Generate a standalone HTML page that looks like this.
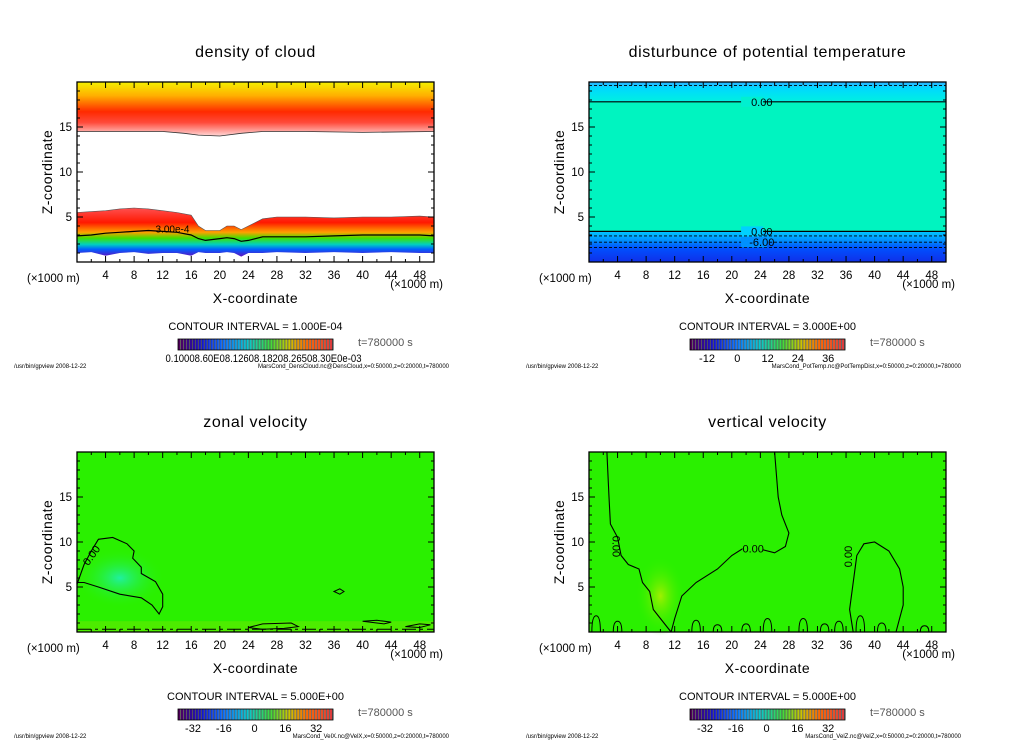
<!DOCTYPE html>
<html><head><meta charset="utf-8">
<style>
html,body{margin:0;padding:0;background:#fff;}
svg{display:block;font-family:"Liberation Sans",sans-serif;}
</style></head>
<body>
<svg id="fig" width="1024" height="740" viewBox="0 0 1024 740" xmlns="http://www.w3.org/2000/svg">
<defs>
<linearGradient id="gTop" x1="0" y1="0" x2="0" y2="1">
<stop offset="0" stop-color="#f4f000"/><stop offset="0.25" stop-color="#ffb000"/><stop offset="0.55" stop-color="#ff2a00"/><stop offset="0.75" stop-color="#ff4a3a"/><stop offset="1" stop-color="#ffd8d8"/>
</linearGradient>
<linearGradient id="gLow" x1="0" y1="0" x2="0" y2="1">
<stop offset="0" stop-color="#ff5050"/><stop offset="0.3" stop-color="#ff1800"/><stop offset="0.5" stop-color="#ffa000"/><stop offset="0.62" stop-color="#40e000"/><stop offset="0.75" stop-color="#00d0c0"/><stop offset="0.85" stop-color="#0060ff"/><stop offset="1" stop-color="#6010c0"/>
</linearGradient>
<linearGradient id="gPTtop" x1="0" y1="0" x2="0" y2="1">
<stop offset="0" stop-color="#30b0ff"/><stop offset="0.3" stop-color="#00d8ff"/><stop offset="1" stop-color="#00f0e0"/>
</linearGradient>
<linearGradient id="gPTlow" x1="0" y1="0" x2="0" y2="1">
<stop offset="0" stop-color="#00c8ff"/><stop offset="0.3" stop-color="#0090ff"/><stop offset="0.55" stop-color="#0050ff"/><stop offset="1" stop-color="#1030e8"/>
</linearGradient>
<radialGradient id="gBlob" cx="0.5" cy="0.5" r="0.5">
<stop offset="0" stop-color="#20f0a0"/><stop offset="1" stop-color="#2af000" stop-opacity="0"/>
</radialGradient>
<radialGradient id="gYel" cx="0.5" cy="0.5" r="0.5">
<stop offset="0" stop-color="#a0f000"/><stop offset="1" stop-color="#2af000" stop-opacity="0"/>
</radialGradient>
</defs>
</svg>
<script>
// ---------- data ----------
const xTicks=[4,8,12,16,20,24,28,32,36,40,44,48];
const zTicks=[5,10,15];
// density of cloud
const cloudX=[0,2,4,6,8,10,12,14,16,17,18,20,21,22,23,24,26,28,32,36,40,44,48,50];
const cloudTop=[5.5,5.6,5.7,5.9,6.0,5.9,5.7,5.5,5.2,4.0,3.5,3.5,4.0,4.0,3.6,4.0,4.8,5.0,5.0,4.9,5.0,5.0,5.1,5.0];
const cloudBot=[1.0,1.1,0.7,1.0,1.1,0.9,1.0,1.0,0.7,1.1,1.0,1.0,1.1,1.0,0.6,1.0,1.0,1.1,1.0,1.1,1.0,1.1,1.0,1.0];
const cloudLine=[2.9,3.0,3.2,3.3,3.4,3.5,3.4,3.3,3.0,2.6,2.4,2.6,2.7,2.6,2.3,2.4,2.8,2.8,2.8,2.9,3.0,3.0,3.0,2.9];
const upperX=[0,6,12,15,17,20,23,26,32,40,50];
const upperBot=[14.5,14.5,14.5,14.3,14.1,14.0,14.3,14.5,14.5,14.4,14.5];
// potential temperature levels
const ptSolid=[17.8,3.4];
const ptDashed=[19.6,2.9,2.2,1.6];
// zonal velocity contour
const uX=[0,1,2,3,5,7,8,7.8,9,9,11,12,12,11.5,10.5,9,6,3,1,0];
const uZ=[5.3,7.5,9,10.3,10.5,9.8,9,8.2,7.2,6.5,5.6,4.2,2.8,2,3,3.8,4.2,5,5.5,5.5];
const uSmallX=[[36,36.8,37.4,36.8,36],[24,26,30,31,29,26,24],[40,42,44,43,40],[46,48,49.5,48,46]];
const uSmallZ=[[4.5,4.8,4.5,4.2,4.5],[0.5,0.9,1.0,0.6,0.4,0.3,0.5],[1.2,1.3,1.1,0.9,1.2],[0.6,0.9,0.8,0.5,0.6]];
// vertical velocity contours
const wAX=[2.5,2.8,3,4,4.5,5.5,7,7.5,8.5,9,10,11,11.5];
const wAZ=[20,15,12,10.5,8.5,7.5,7,5.5,4.5,2.5,1.5,0.5,0];
const wBX=[11.5,12,13,15,18,20,22,24,26,27.5,28,27,26.5,26];
const wBZ=[0,1.5,4,5.5,7,8.5,9.5,9.2,8.8,9.5,11,13,15,20];
const wCX=[37,36.5,37,37.5,38.5,40,42,43.5,44,44,43.5,43];
const wCZ=[0,2.5,5.5,8.5,9.8,10,9,7,5,3,1.5,0];
const wBumpX=[1,4,15,18,22,25,30,33,35,38,41,47];
const wBumpZ=[1.8,1.2,1.3,0.8,0.9,1.5,1.5,0.9,1.2,1.8,1.0,0.7];
// colorbar labels
const cb2Labels=["-12","0","12","24","36"];
const cb3Labels=["-32","-16","0","16","32"];

// ---------- helpers ----------
const NS="http://www.w3.org/2000/svg";
const svg=document.getElementById('fig');
function mk(tag,attrs,parent,txt){const e=document.createElementNS(NS,tag);for(const k in attrs)e.setAttribute(k,attrs[k]);if(txt!==undefined)e.textContent=txt;(parent||svg).appendChild(e);return e;}
function axes(px,py){const X0=px,X1=px+357,Y1=py+180;return{sx:x=>X0+x*357/50,sz:z=>Y1-z*9,X0,X1,Y0:py,Y1};}
function pathOf(A,xs,zs,close){let d='';for(let i=0;i<xs.length;i++)d+=(i?'L':'M')+A.sx(xs[i]).toFixed(1)+' '+A.sz(zs[i]).toFixed(1);return d+(close?'Z':'');}

function frame(g,A,title,ci,cbLabels,cbStops,footerR,lab0,labStep){
  const cx=(A.X0+A.X1)/2;
  const t=mk('text',{x:cx,y:A.Y0-25,'text-anchor':'middle','font-size':16,'letter-spacing':'0.6'},g,title);
  
  
  const b=mk('rect',{x:A.X0,y:A.Y0,width:357,height:180,fill:'none',stroke:'#000','stroke-width':1.3},g);
  
  
  for(let x=2;x<50;x+=2){const L=(x%4==0)?6:3;
    mk('line',{x1:A.sx(x),x2:A.sx(x),y1:A.Y1,y2:A.Y1-L,stroke:'#000'},g);
    mk('line',{x1:A.sx(x),x2:A.sx(x),y1:A.Y0,y2:A.Y0+L,stroke:'#000'},g);}
  for(let z=1;z<20;z++){const L=(z%5==0)?6:3;
    mk('line',{x1:A.X0,x2:A.X0+L,y1:A.sz(z),y2:A.sz(z),stroke:'#000'},g);
    mk('line',{x1:A.X1,x2:A.X1-L,y1:A.sz(z),y2:A.sz(z),stroke:'#000'},g);}
  xTicks.forEach(v=>{const e=mk('text',{x:A.sx(v),y:A.Y1+17,'text-anchor':'middle','font-size':11.5},g,String(v));
    });
  zTicks.forEach(v=>{const e=mk('text',{x:A.X0-5,y:A.sz(v)+4,'text-anchor':'end','font-size':11.5},g,String(v));
    });
  const yt=mk('text',{x:0,y:0,'text-anchor':'middle','font-size':14,'letter-spacing':'0.5',transform:`translate(${A.X0-25},${A.Y0+90}) rotate(-90)`},g,'Z-coordinate');
  
  const u1=mk('text',{x:A.X0-50,y:A.Y1+20,'font-size':11.5},g,'(×1000 m)');
  
  const u2=mk('text',{x:A.X1+9,y:A.Y1+26,'text-anchor':'end','font-size':11.5},g,'(×1000 m)');
  
  const xt=mk('text',{x:cx,y:A.Y1+41,'text-anchor':'middle','font-size':14,'letter-spacing':'0.5'},g,'X-coordinate');
  
  const c=mk('text',{x:cx,y:A.Y1+68,'text-anchor':'middle','font-size':11},g,'CONTOUR INTERVAL = '+ci);
  
  // colorbar
  const cbx=A.X0+101,cby=A.Y1+77,cbw=155,cbh=11,n=52;
  const cbg=mk('g',{},g);
  
  
  for(let i=0;i<n;i++){const f=i/(n-1);let col;
    for(let k=0;k<cbStops.length-1;k++){if(f>=cbStops[k][0]&&f<=cbStops[k+1][0]){const a=cbStops[k],bb=cbStops[k+1],t2=(f-a[0])/(bb[0]-a[0]);
      col='rgb('+[0,1,2].map(j=>Math.round(a[1][j]+(bb[1][j]-a[1][j])*t2)).join(',')+')';break;}}
    mk('rect',{x:cbx+i*cbw/n,y:cby,width:cbw/n*0.7,height:cbh,fill:col},cbg);
    mk('rect',{x:cbx+i*cbw/n+cbw/n*0.7,y:cby,width:cbw/n*0.3+0.2,height:cbh,fill:'#555'},cbg);}
  mk('rect',{x:cbx,y:cby,width:cbw,height:cbh,fill:'none',stroke:'#000','stroke-width':0.8},cbg);
  if(cbLabels){cbLabels.forEach((l,i)=>{const e=mk('text',{x:cbx+lab0+i*labStep,y:cby+23,'text-anchor':'middle','font-size':11},cbg,l);
      });}
  else{const e=mk('text',{x:cbx+cbw/2+8,y:cby+23,'text-anchor':'middle','font-size':11,textLength:196,lengthAdjust:'spacingAndGlyphs'},cbg,'0.10008.60E08.12608.18208.26508.30E0e-03');
      }
  const tt=mk('text',{x:A.X1-76,y:cby+7,'font-size':11,fill:'#555'},g,'t=780000  s');
  
  const f1=mk('text',{x:A.X0-63,y:A.Y1+106,'font-size':6},g,'/usr/bin/gpview   2008-12-22');
  
  const f2=mk('text',{x:A.X1+15,y:A.Y1+106,'text-anchor':'end','font-size':6},g,footerR);
  
}
const rainbow=[[0,[80,0,90]],[0.15,[20,20,200]],[0.3,[0,110,255]],[0.45,[0,200,210]],[0.6,[60,220,60]],[0.72,[200,200,0]],[0.85,[255,100,0]],[1,[220,60,60]]];

// ---------- panel 1: density of cloud ----------
{const A=axes(77,82);const g=mk('g',{});


let d='M'+A.sx(0)+' '+A.sz(20);d+='L'+A.sx(50)+' '+A.sz(20);
for(let i=upperX.length-1;i>=0;i--)d+='L'+A.sx(upperX[i]).toFixed(1)+' '+A.sz(upperBot[i]).toFixed(1);
const up=mk('path',{d:d+'Z',fill:'url(#gTop)'},g);


mk('path',{d:pathOf(A,upperX,upperBot),fill:'none',stroke:'#333','stroke-width':0.8},g);
let d2='';cloudX.forEach((x,i)=>d2+=(i?'L':'M')+A.sx(x).toFixed(1)+' '+A.sz(cloudTop[i]).toFixed(1));
for(let i=cloudX.length-1;i>=0;i--)d2+='L'+A.sx(cloudX[i]).toFixed(1)+' '+A.sz(cloudBot[i]).toFixed(1);
const lo=mk('path',{d:d2+'Z',fill:'url(#gLow)'},g);


mk('path',{d:pathOf(A,cloudX,cloudTop),fill:'none',stroke:'#555','stroke-width':0.6},g);
const cl=mk('path',{d:pathOf(A,cloudX,cloudLine),fill:'none',stroke:'#000','stroke-width':1.2},g);


mk('text',{x:A.sx(11),y:A.sz(3.3),'font-size':10},g,'3.00e-4');
frame(g,A,'density of cloud','1.000E-04',null,rainbow,'MarsCond_DensCloud.nc@DensCloud,x=0:50000,z=0:20000,t=780000',0,0);}

// ---------- panel 2: potential temperature ----------
{const A=axes(589,82);const g=mk('g',{});


mk('rect',{x:A.X0,y:A.Y0,width:357,height:180,fill:'#00f4c0'},g);
mk('rect',{x:A.X0,y:A.Y0,width:357,height:A.sz(ptSolid[0])-A.Y0,fill:'url(#gPTtop)'},g);
mk('rect',{x:A.X0,y:A.sz(ptSolid[1]),width:357,height:A.Y1-A.sz(ptSolid[1]),fill:'url(#gPTlow)'},g);
ptSolid.forEach(z=>{const l=mk('line',{x1:A.X0,x2:A.X1,y1:A.sz(z),y2:A.sz(z),stroke:'#000','stroke-width':1.2},g);
  
  mk('rect',{x:A.sx(21.3),y:A.sz(z)-5,width:22,height:10,fill:z>10?'#00f0d0':'#00d0ff'},g);
  mk('text',{x:A.sx(24.2),y:A.sz(z)+4,'text-anchor':'middle','font-size':11},g,'0.00');});
ptDashed.forEach(z=>{const l=mk('line',{x1:A.X0,x2:A.X1,y1:A.sz(z),y2:A.sz(z),stroke:'#000','stroke-width':0.9,'stroke-dasharray':'3,2'},g);
  });
mk('rect',{x:A.sx(21.3),y:A.sz(2.2)-5,width:26,height:10,fill:'#0090ff'},g);
mk('text',{x:A.sx(24.2),y:A.sz(2.2)+4,'text-anchor':'middle','font-size':11},g,'-6.00');
frame(g,A,'disturbunce of potential temperature','3.000E+00',cb2Labels,rainbow,'MarsCond_PotTemp.nc@PotTempDist,x=0:50000,z=0:20000,t=780000',17,30.3);}

// ---------- panel 3: zonal velocity ----------
{const A=axes(77,452);const g=mk('g',{});


mk('rect',{x:A.X0,y:A.Y0,width:357,height:180,fill:'#2af000'},g);
mk('ellipse',{cx:A.sx(6),cy:A.sz(6),rx:45,ry:30,fill:'url(#gBlob)'},g);
mk('rect',{x:A.X0,y:A.sz(1.2),width:357,height:A.Y1-A.sz(1.2),fill:'#70e800',opacity:0.5},g);
const c=mk('path',{d:pathOf(A,uX,uZ,true),fill:'none',stroke:'#000','stroke-width':1.1},g);


uSmallX.forEach((xs,i)=>{const e=mk('path',{d:pathOf(A,xs,uSmallZ[i],true),fill:'none',stroke:'#000','stroke-width':1},g);
  });
mk('path',{d:`M${A.X0} ${A.sz(0.3)}L${A.X1} ${A.sz(0.3)}`,stroke:'#000','stroke-width':1,'stroke-dasharray':'14,4,3,4'},g);
mk('text',{x:0,y:0,'font-size':11,transform:`translate(${A.sx(1.6)},${A.sz(7.3)}) rotate(-55)`},g,'0.00');
frame(g,A,'zonal velocity','5.000E+00',cb3Labels,rainbow,'MarsCond_VelX.nc@VelX,x=0:50000,z=0:20000,t=780000',15,30.8);}

// ---------- panel 4: vertical velocity ----------
{const A=axes(589,452);const g=mk('g',{});


mk('rect',{x:A.X0,y:A.Y0,width:357,height:180,fill:'#2af000'},g);
mk('ellipse',{cx:A.sx(10),cy:A.sz(4),rx:25,ry:40,fill:'url(#gYel)'},g);
[[wAX,wAZ],[wBX,wBZ],[wCX,wCZ]].forEach(p=>{const e=mk('path',{d:pathOf(A,p[0],p[1]),fill:'none',stroke:'#000','stroke-width':1.1},g);
  });
wBumpX.forEach((x,i)=>{const e=mk('path',{d:`M${A.sx(x-0.6)} ${A.Y1}Q${A.sx(x-0.6)} ${A.sz(wBumpZ[i])} ${A.sx(x)} ${A.sz(wBumpZ[i])}Q${A.sx(x+0.6)} ${A.sz(wBumpZ[i])} ${A.sx(x+0.6)} ${A.Y1}`,fill:'none',stroke:'#000','stroke-width':1},g);
  });
mk('text',{x:0,y:0,'font-size':11,transform:`translate(${A.sx(3.3)},${A.sz(10.7)}) rotate(90)`},g,'0.00');
mk('rect',{x:A.sx(21.5),y:A.sz(9.3)-5,width:20,height:10,fill:'#2af000'},g);
mk('text',{x:A.sx(21.5),y:A.sz(9.3)+4,'font-size':11},g,'0.00');
mk('text',{x:0,y:0,'font-size':11,transform:`translate(${A.sx(36.8)},${A.sz(7.2)}) rotate(-90)`},g,'0.00');
frame(g,A,'vertical velocity','5.000E+00',cb3Labels,rainbow,'MarsCond_VelZ.nc@VelZ,x=0:50000,z=0:20000,t=780000',15,30.8);}
</script>
</body></html>
